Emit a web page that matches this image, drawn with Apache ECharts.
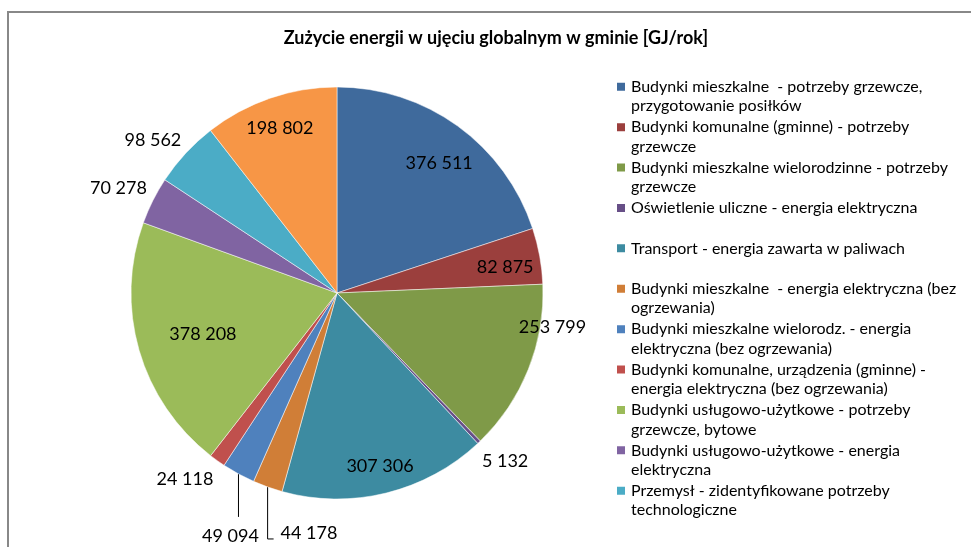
<!DOCTYPE html>
<html>
<head>
<meta charset="utf-8">
<script src="https://cdn.jsdelivr.net/npm/echarts@6/dist/echarts.min.js"></script>
<style>
  html, body { margin: 0; padding: 0; background: #fff; }
  #chart { width: 971px; height: 547px; }
</style>
</head>
<body>
<div id="chart"></div>
<script>
  // dane [GJ/rok]
  const chartTitle = 'Zużycie energii w ujęciu globalnym w gminie [GJ/rok]';
  const categories = [
    'Budynki mieszkalne  - potrzeby grzewcze,\nprzygotowanie posiłków',
    'Budynki komunalne (gminne) - potrzeby\ngrzewcze',
    'Budynki mieszkalne wielorodzinne - potrzeby\ngrzewcze',
    'Oświetlenie uliczne - energia elektryczna',
    'Transport - energia zawarta w paliwach',
    'Budynki mieszkalne  - energia elektryczna (bez\nogrzewania)',
    'Budynki mieszkalne wielorodz. - energia\nelektryczna (bez ogrzewania)',
    'Budynki komunalne, urządzenia (gminne) -\nenergia elektryczna (bez ogrzewania)',
    'Budynki usługowo-użytkowe - potrzeby\ngrzewcze, bytowe',
    'Budynki usługowo-użytkowe - energia\nelektryczna',
    'Przemysł - zidentyfikowane potrzeby\ntechnologiczne',
    'Pozostałe'
  ];
  const values = [376511, 82875, 253799, 5132, 307306, 44178, 49094, 24118, 378208, 70278, 98562, 198802];
  // legenda w oryginale mieści tylko 11 pozycji
  const legendItems = categories.slice(0, 11);

  const colors = ['#3f6a9c', '#9b3f3d', '#7f9a48', '#674f87', '#3d8ba1', '#d07e37',
                  '#4f81bd', '#c0504d', '#9bbb59', '#8064a2', '#4bacc6', '#f79646'];

  // gdzie stoi etykieta: in = w środku, out = obok, down = pod linią, right = linia z kolankiem
  const labelMode = ['in', 'in', 'in', 'out', 'in', 'right', 'down', 'out', 'in', 'out', 'out', 'in'];
  // drobne przesunięcia etykiet (best fit z Excela)
  const labelNudge = [[-1, 13], [-5, 6], [52, -31], [-9, 12], [1, 2], [0, 0], [0, 0],
                      [7, 10], [35, -8], [8, -8], [8, -6], [0, 2]];

  const FONT = 'Lato, "Open Sans", sans-serif';
  const LEG_LH = 19.5;

  function fmt(v) {
    return String(v).replace(/\B(?=(\d{3})+(?!\d))/g, ' ');
  }

  const center = [337, 293];
  const R = 206;

  var myChart = echarts.init(document.getElementById('chart'));

  myChart.setOption({
    animation: false,
    title: {
      text: chartTitle,
      left: 491,
      top: 22,
      textAlign: 'center',
      textStyle: { fontFamily: FONT, fontSize: 18, fontWeight: 'bold', color: '#000', lineHeight: 22 }
    },
    graphic: [{
      type: 'rect',
      silent: true,
      shape: { x: 8, y: 12, width: 1000, height: 600 },
      style: { fill: 'none', stroke: '#888888', lineWidth: 2 }
    }],
    legend: {
      orient: 'vertical',
      left: 610,
      top: 72,
      data: legendItems,
      // kwadrat przy pierwszej linii opisu (niewidoczny punkt wydłuża ikonę w dół)
      icon: 'path://M0,0h10v10h-10zM0,' + (LEG_LH + 10) + 'L0,' + (LEG_LH + 10),
      symbolKeepAspect: false,
      itemWidth: 10,
      itemHeight: LEG_LH + 10,
      itemGap: 1.4,
      selectedMode: false,
      formatter: function (name) {
        return name.indexOf('\n') >= 0 ? name : name + '\n ';
      },
      textStyle: { fontFamily: FONT, fontSize: 16, color: '#000', lineHeight: LEG_LH }
    },
    series: [
      {
        // wycinki + etykiety zewnętrzne
        type: 'pie',
        center: center,
        radius: R,
        startAngle: 90,
        clockwise: true,
        avoidLabelOverlap: false,
        itemStyle: { borderColor: '#ffffff', borderWidth: 0.5 },
        label: {
          position: 'outside',
          formatter: function (p) { return fmt(p.value); },
          fontFamily: FONT, fontSize: 18, color: '#000'
        },
        labelLine: { show: false, length: 10, length2: 0, lineStyle: { color: '#000', width: 1 } },
        emphasis: { disabled: true },
        data: values.map(function (v, i) {
          const m = labelMode[i];
          return {
            name: categories[i],
            value: v,
            itemStyle: { color: colors[i] },
            label: { show: m !== 'in' },
            labelLine: { show: m === 'down' || m === 'right' }
          };
        }),
        labelLayout: function (p) {
          const m = labelMode[p.dataIndex];
          const pts = p.labelLinePoints;
          if (m === 'down' && pts) {
            const a = pts[0];
            return {
              x: a[0] - 8, y: a[1] + 62, align: 'center', verticalAlign: 'middle',
              labelLinePoints: [[a[0], a[1]], [a[0], a[1] + 43], [a[0], a[1] + 43]]
            };
          }
          if (m === 'right' && pts) {
            const a = pts[0];
            return {
              x: a[0] + 13, y: a[1] + 46, align: 'left', verticalAlign: 'middle',
              labelLinePoints: [[a[0], a[1]], [a[0], a[1] + 52], [a[0] + 6, a[1] + 52]]
            };
          }
          const n = labelNudge[p.dataIndex];
          return { dx: n[0], dy: n[1] };
        }
      },
      {
        // etykiety wewnętrzne (przezroczysty pierścień)
        type: 'pie',
        center: center,
        radius: [140, R],
        startAngle: 90,
        clockwise: true,
        silent: true,
        avoidLabelOverlap: false,
        itemStyle: { color: 'rgba(0,0,0,0)', borderWidth: 0 },
        label: {
          position: 'inside',
          formatter: function (p) { return fmt(p.value); },
          fontFamily: FONT, fontSize: 18, color: '#000'
        },
        labelLine: { show: false },
        emphasis: { disabled: true },
        data: values.map(function (v, i) {
          return { name: categories[i], value: v, label: { show: labelMode[i] === 'in' } };
        }),
        labelLayout: function (p) {
          const n = labelNudge[p.dataIndex];
          return { dx: n[0], dy: n[1] };
        }
      }
    ]
  });

  window.addEventListener('resize', function () {
    myChart.resize();
  });
</script>
</body>
</html>
